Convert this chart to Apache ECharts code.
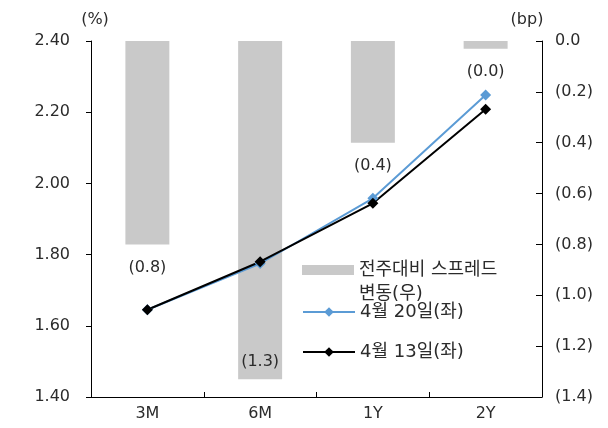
<!DOCTYPE html>
<html>
<head>
<meta charset="utf-8">
<script src="https://cdn.jsdelivr.net/npm/echarts@6/dist/echarts.min.js"></script>
<style>
    html, body { margin: 0; padding: 0; background: #fff; }
    #chart { width: 608px; height: 428px; }
</style>
</head>
<body>
<div id="chart"></div>
<script>
// 만기 구분
let categories = ['3M', '6M', '1Y', '2Y'];
// 전주대비 스프레드 변동 (bp, 우축)
let spreadChange = [-0.8, -1.33, -0.4, -0.03];
// 금리 (%, 좌축)
let rateApr20 = [1.645, 1.775, 1.958, 2.248];
let rateApr13 = [1.645, 1.780, 1.944, 2.208];

let fontFamily = '"DejaVu Sans", "Noto Sans CJK KR", sans-serif';
let fontSize = 16;
let legendFontSize = 18;
let textColor = '#2b2b2b';
let axisColor = '#000';
let barColor = '#c9c9c9';
let blueColor = '#5b9bd5';

// bp 표기: 음수는 괄호
let bpFormat = v => {
    if (v === 0) return '0.0';
    return v > 0 ? v.toFixed(1) : '(' + Math.abs(v).toFixed(1) + ')';
};

let chart = echarts.init(document.getElementById('chart'));

let legendBase = {
    left: 302,
    padding: 0,
    itemWidth: 52,
    itemGap: 0,
    textStyle: { fontSize: legendFontSize, color: textColor }
};

let option = {
    animation: false,
    textStyle: { fontFamily: fontFamily },
    grid: { left: 91, right: 66, top: 41, bottom: 31 },
    legend: [
        Object.assign({}, legendBase, {
            top: 261,
            itemHeight: 10,
            icon: 'rect',
            data: ['전주대비 스프레드 변동(우)'],
            formatter: () => '전주대비 스프레드'
        }),
        Object.assign({}, legendBase, {
            top: 303,
            itemHeight: 12,
            data: ['4월 20일(좌)']
        }),
        Object.assign({}, legendBase, {
            top: 343,
            itemHeight: 12,
            data: ['4월 13일(좌)']
        })
    ],
    // 범례 두번째 줄
    graphic: [
        {
            type: 'text',
            left: 359,
            top: 285,
            style: { text: '변동(우)', fontSize: legendFontSize, fill: textColor, fontFamily: fontFamily }
        }
    ],
    xAxis: {
        type: 'category',
        data: categories,
        axisTick: { show: true, inside: true, length: 5, lineStyle: { color: axisColor } },
        axisLine: { onZero: false, lineStyle: { color: axisColor } },
        axisLabel: { fontSize: fontSize, color: textColor, margin: 9 }
    },
    yAxis: [
        {
            type: 'value',
            min: 1.4,
            max: 2.4,
            interval: 0.2,
            name: '(%)',
            nameGap: 13,
            nameTextStyle: { fontSize: fontSize, color: textColor, padding: [0, 0, 0, 8] },
            axisLine: { show: true, lineStyle: { color: axisColor } },
            axisTick: { show: true, length: 5, lineStyle: { color: axisColor } },
            splitLine: { show: false },
            axisLabel: { fontSize: fontSize, color: textColor, margin: 21, formatter: v => v.toFixed(2) }
        },
        {
            type: 'value',
            min: -1.4,
            max: 0,
            interval: 0.2,
            name: '(bp)',
            nameGap: 13,
            nameTextStyle: { fontSize: fontSize, color: textColor, padding: [0, 30, 0, 0] },
            axisLine: { show: true, lineStyle: { color: axisColor } },
            axisTick: { show: true, inside: true, length: 6, lineStyle: { color: axisColor } },
            splitLine: { show: false },
            axisLabel: { fontSize: fontSize, color: textColor, margin: 13, formatter: bpFormat }
        }
    ],
    series: [
        {
            name: '전주대비 스프레드 변동(우)',
            type: 'bar',
            yAxisIndex: 1,
            barWidth: '39%',
            itemStyle: { color: barColor },
            label: {
                show: true,
                position: 'bottom',
                distance: 15,
                fontSize: fontSize,
                color: textColor,
                formatter: p => bpFormat(p.value)
            },
            data: spreadChange.map((v, i) => i === 1
                ? { value: v, label: { position: 'insideBottom', distance: 9 } }
                : v)
        },
        {
            name: '4월 20일(좌)',
            type: 'line',
            yAxisIndex: 0,
            symbol: 'diamond',
            symbolSize: 11,
            lineStyle: { color: blueColor, width: 2 },
            itemStyle: { color: blueColor },
            data: rateApr20
        },
        {
            name: '4월 13일(좌)',
            type: 'line',
            yAxisIndex: 0,
            symbol: 'diamond',
            symbolSize: 11,
            lineStyle: { color: '#000', width: 2 },
            itemStyle: { color: '#000' },
            data: rateApr13
        }
    ]
};

chart.setOption(option);
</script>
</body>
</html>
